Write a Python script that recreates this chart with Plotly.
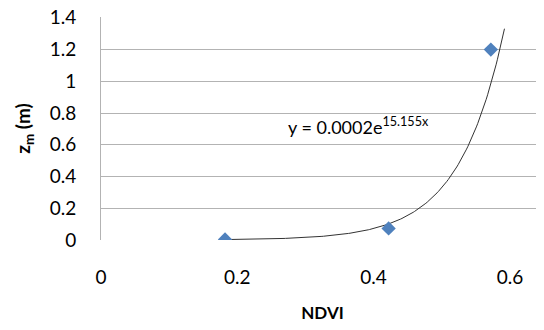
import numpy as np
import plotly.graph_objects as go

# Data
ndvi = [0.182, 0.422, 0.572]
zm = [0.003, 0.073, 1.2]
x_ticks = [0, 0.2, 0.4, 0.6]
x_tick_labels = ["0", "0.2", "0.4", "0.6"]
y_ticks = [0, 0.2, 0.4, 0.6, 0.8, 1, 1.2, 1.4]
y_tick_labels = ["0", "0.2", "0.4", "0.6", "0.8", "1", "1.2", "1.4"]
equation_text = "y = 0.0002e<sup>15.155x</sup>"
trend_forward = 0.02

# Exponential trendline fitted to the data (least squares on ln y)
b, ln_a = np.polyfit(ndvi, np.log(zm), 1)
a = np.exp(ln_a)
tx = np.linspace(min(ndvi), max(ndvi) + trend_forward, 200)
ty = a * np.exp(b * tx)

font_family = "Lato, 'Open Sans', sans-serif"
grid = "#B3B3B3"

fig = go.Figure()
fig.add_trace(go.Scatter(x=tx, y=ty, mode="lines",
                         line=dict(color="#333333", width=1), hoverinfo="skip",
                         showlegend=False))
fig.add_trace(go.Scatter(x=ndvi, y=zm, mode="markers",
                         marker=dict(symbol="diamond", size=11, color="#4F81BD",
                                     line=dict(width=0)),
                         showlegend=False))

fig.add_annotation(x=0.272, y=0.72, xref="x", yref="y", text=equation_text,
                   showarrow=False, xanchor="left", yanchor="middle",
                   font=dict(family=font_family, size=18, color="#000000"))

# page body has an 8px default margin, so the figure is sized 536x322
fig.update_layout(
    width=536, height=322,
    margin=dict(l=93, r=0, t=9, b=90),
    paper_bgcolor="white", plot_bgcolor="white",
    font=dict(family=font_family, size=18, color="#000000"),
    xaxis=dict(range=[0, 0.65], tickvals=x_ticks, ticktext=x_tick_labels,
               showgrid=False, zeroline=False, showline=False,
               ticks="", ticklabelstandoff=24, automargin=False,
               tickfont=dict(size=19),
               title=dict(text="<b>NDVI</b>", font=dict(size=17), standoff=20)),
    yaxis=dict(range=[0, 1.405], tickvals=y_ticks, ticktext=y_tick_labels,
               showgrid=True, gridcolor=grid, gridwidth=1,
               zeroline=False, showline=True, linecolor=grid, linewidth=1,
               ticks="", ticklabelstandoff=20, automargin=False,
               ticklabeloverflow="allow",
               tickfont=dict(size=19),
               title=dict(text="<b>z<sub>m</sub> (m)</b>", font=dict(size=19), standoff=14)),
)

fig.write_html("out.html")
